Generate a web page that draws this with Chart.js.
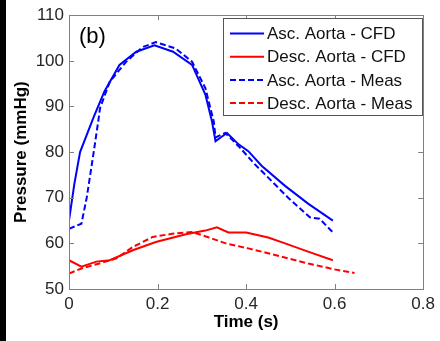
<!DOCTYPE html>
<html>
<head>
<meta charset="utf-8">
<script src="https://cdn.jsdelivr.net/npm/chart.js@4.4.0/dist/chart.umd.min.js"></script>
<style>
  html, body { margin: 0; padding: 0; background: #fff; }
  #wrap { position: relative; width: 440px; height: 341px; }
  #edge { position: absolute; left: 0; top: 0; width: 6px; height: 341px; background: #000; }
</style>
</head>
<body>
<div id="wrap">
  <canvas id="chart" width="440" height="341"></canvas>
  <div id="edge"></div>
</div>
<script>
// Values (time in s, pressure in mmHg)
const ascCfdTime = [0, 0.012, 0.025, 0.055, 0.08, 0.114, 0.152, 0.193, 0.235, 0.278, 0.308, 0.323, 0.331, 0.344, 0.357, 0.383, 0.405, 0.435, 0.488, 0.54, 0.596];
const ascCfdP    = [65, 73, 80, 87.5, 93.3, 99.1, 102, 103.4, 102, 99.1, 92.6, 86.7, 82.4, 83.3, 84.2, 81.7, 80.2, 77, 72.6, 68.7, 65];

const descCfdTime = [0, 0.028, 0.062, 0.092, 0.144, 0.196, 0.264, 0.308, 0.334, 0.36, 0.4, 0.45, 0.488, 0.54, 0.596];
const descCfdP    = [56.3, 54.9, 56, 56.3, 58.5, 60.3, 62, 62.8, 63.5, 62.4, 62.4, 61.3, 60, 58.2, 56.3];

const ascMeasTime = [0, 0.028, 0.04, 0.055, 0.066, 0.07, 0.092, 0.129, 0.166, 0.196, 0.241, 0.278, 0.308, 0.327, 0.331, 0.353, 0.383, 0.42, 0.45, 0.495, 0.544, 0.566, 0.596];
const ascMeasP    = [63.2, 64.3, 70, 79.5, 86.7, 89.6, 95.4, 99.8, 103, 104.1, 102.7, 99.8, 94, 86.7, 83.2, 84.2, 81.3, 77.3, 74.4, 70, 65.7, 65.4, 62.4];

const descMeasTime = [0, 0.028, 0.069, 0.107, 0.144, 0.189, 0.233, 0.278, 0.316, 0.354, 0.405, 0.443, 0.54, 0.6, 0.645];
const descMeasP    = [53.4, 54.5, 55.6, 56.7, 59.2, 61.4, 62.1, 62.5, 61.3, 60, 58.9, 58, 55.6, 54.3, 53.5];

const seriesLabels = ['Asc. Aorta - CFD', 'Desc. Aorta - CFD', 'Asc. Aorta - Meas', 'Desc. Aorta - Meas'];
const xTicks = [0, 0.2, 0.4, 0.6, 0.8];
const yTicks = [50, 60, 70, 80, 90, 100, 110];

const BLUE = '#0000ff';
const RED = '#ff0000';
const FONT = '"Liberation Sans", Arial, sans-serif';
const TEXT = '#262626';

function pts(ts, ps) {
	return ts.map((t, i) => ({ x: t, y: ps[i] }));
}

function makeSet(label, ts, ps, color, dashed) {
	return {
		label: label,
		data: pts(ts, ps),
		borderColor: color,
		backgroundColor: color,
		borderWidth: 2,
		borderDash: dashed ? [6, 3] : [],
		pointRadius: 0,
		tension: 0,
		fill: false,
	};
}

// Matlab style box, inward ticks, axis titles, panel tag and legend
const figurePlugin = {
	id: 'figure',
	afterDraw(chart) {
		const { ctx, chartArea: a, scales } = chart;
		ctx.save();
		ctx.strokeStyle = '#808080';
		ctx.lineWidth = 1;
		ctx.setLineDash([]);
		ctx.strokeRect(Math.round(a.left) + 0.5, Math.round(a.top) + 0.5,
			Math.round(a.right - a.left), Math.round(a.bottom - a.top));

		const seg = (x1, y1, x2, y2) => {
			ctx.beginPath();
			ctx.moveTo(x1, y1);
			ctx.lineTo(x2, y2);
			ctx.stroke();
		};
		xTicks.forEach(v => {
			const px = Math.round(scales.x.getPixelForValue(v)) + 0.5;
			seg(px, a.bottom, px, a.bottom - 5);
			seg(px, a.top, px, a.top + 5);
		});
		yTicks.forEach(v => {
			const py = Math.round(scales.y.getPixelForValue(v)) + 0.5;
			seg(a.left, py, a.left + 5, py);
			seg(a.right, py, a.right - 5, py);
		});

		// axis titles
		ctx.fillStyle = '#000';
		ctx.font = 'bold 17px ' + FONT;
		ctx.textAlign = 'center';
		ctx.textBaseline = 'middle';
		ctx.fillText('Time (s)', (a.left + a.right) / 2, 322);
		ctx.save();
		ctx.translate(21, (a.top + a.bottom) / 2);
		ctx.rotate(-Math.PI / 2);
		ctx.fillText('Pressure (mmHg)', 0, 0);
		ctx.restore();

		// panel tag
		ctx.font = '22px ' + FONT;
		ctx.textAlign = 'left';
		ctx.textBaseline = 'alphabetic';
		ctx.fillStyle = '#000';
		ctx.fillText('(b)', 79, 43);

		// legend box
		const lx = 223, ly = 18, lw = 199, lh = 97;
		ctx.fillStyle = '#fff';
		ctx.fillRect(lx, ly, lw, lh);
		ctx.strokeStyle = '#555';
		ctx.strokeRect(lx + 0.5, ly + 0.5, lw, lh);
		ctx.font = '17px ' + FONT;
		ctx.textBaseline = 'middle';
		chart.data.datasets.forEach((ds, i) => {
			const y = 33.5 + i * 23.2;
			ctx.strokeStyle = ds.borderColor;
			ctx.lineWidth = 2;
			ctx.setLineDash(ds.borderDash);
			seg(230, y, 264, y);
			ctx.setLineDash([]);
			ctx.fillStyle = '#111';
			ctx.fillText(ds.label, 267, y + 1);
		});
		ctx.restore();
	},
};

const ctx = document.getElementById('chart');
new Chart(ctx, {
	type: 'line',
	data: {
		datasets: [
			makeSet(seriesLabels[0], ascCfdTime, ascCfdP, BLUE, false),
			makeSet(seriesLabels[1], descCfdTime, descCfdP, RED, false),
			makeSet(seriesLabels[2], ascMeasTime, ascMeasP, BLUE, true),
			makeSet(seriesLabels[3], descMeasTime, descMeasP, RED, true),
		],
	},
	options: {
		responsive: false,
		animation: false,
		layout: { padding: { left: 0, top: 13, right: 14, bottom: 0 } },
		plugins: {
			legend: { display: false },
			tooltip: { enabled: false },
		},
		scales: {
			x: {
				type: 'linear',
				min: 0,
				max: 0.8,
				grid: { display: false, drawTicks: false },
				border: { display: false },
				afterFit: s => { s.height = 52; },
				afterBuildTicks: s => { s.ticks = xTicks.map(v => ({ value: v })); },
				ticks: {
					padding: 5,
					color: TEXT,
					font: { family: FONT, size: 17 },
					callback: v => String(+v.toFixed(1)),
				},
			},
			y: {
				min: 50,
				max: 110,
				grid: { display: false, drawTicks: false },
				border: { display: false },
				afterFit: s => { s.width = 69; },
				afterBuildTicks: s => { s.ticks = yTicks.map(v => ({ value: v })); },
				ticks: {
					padding: 5,
					color: TEXT,
					font: { family: FONT, size: 17 },
				},
			},
		},
	},
	plugins: [figurePlugin],
});
</script>
</body>
</html>
